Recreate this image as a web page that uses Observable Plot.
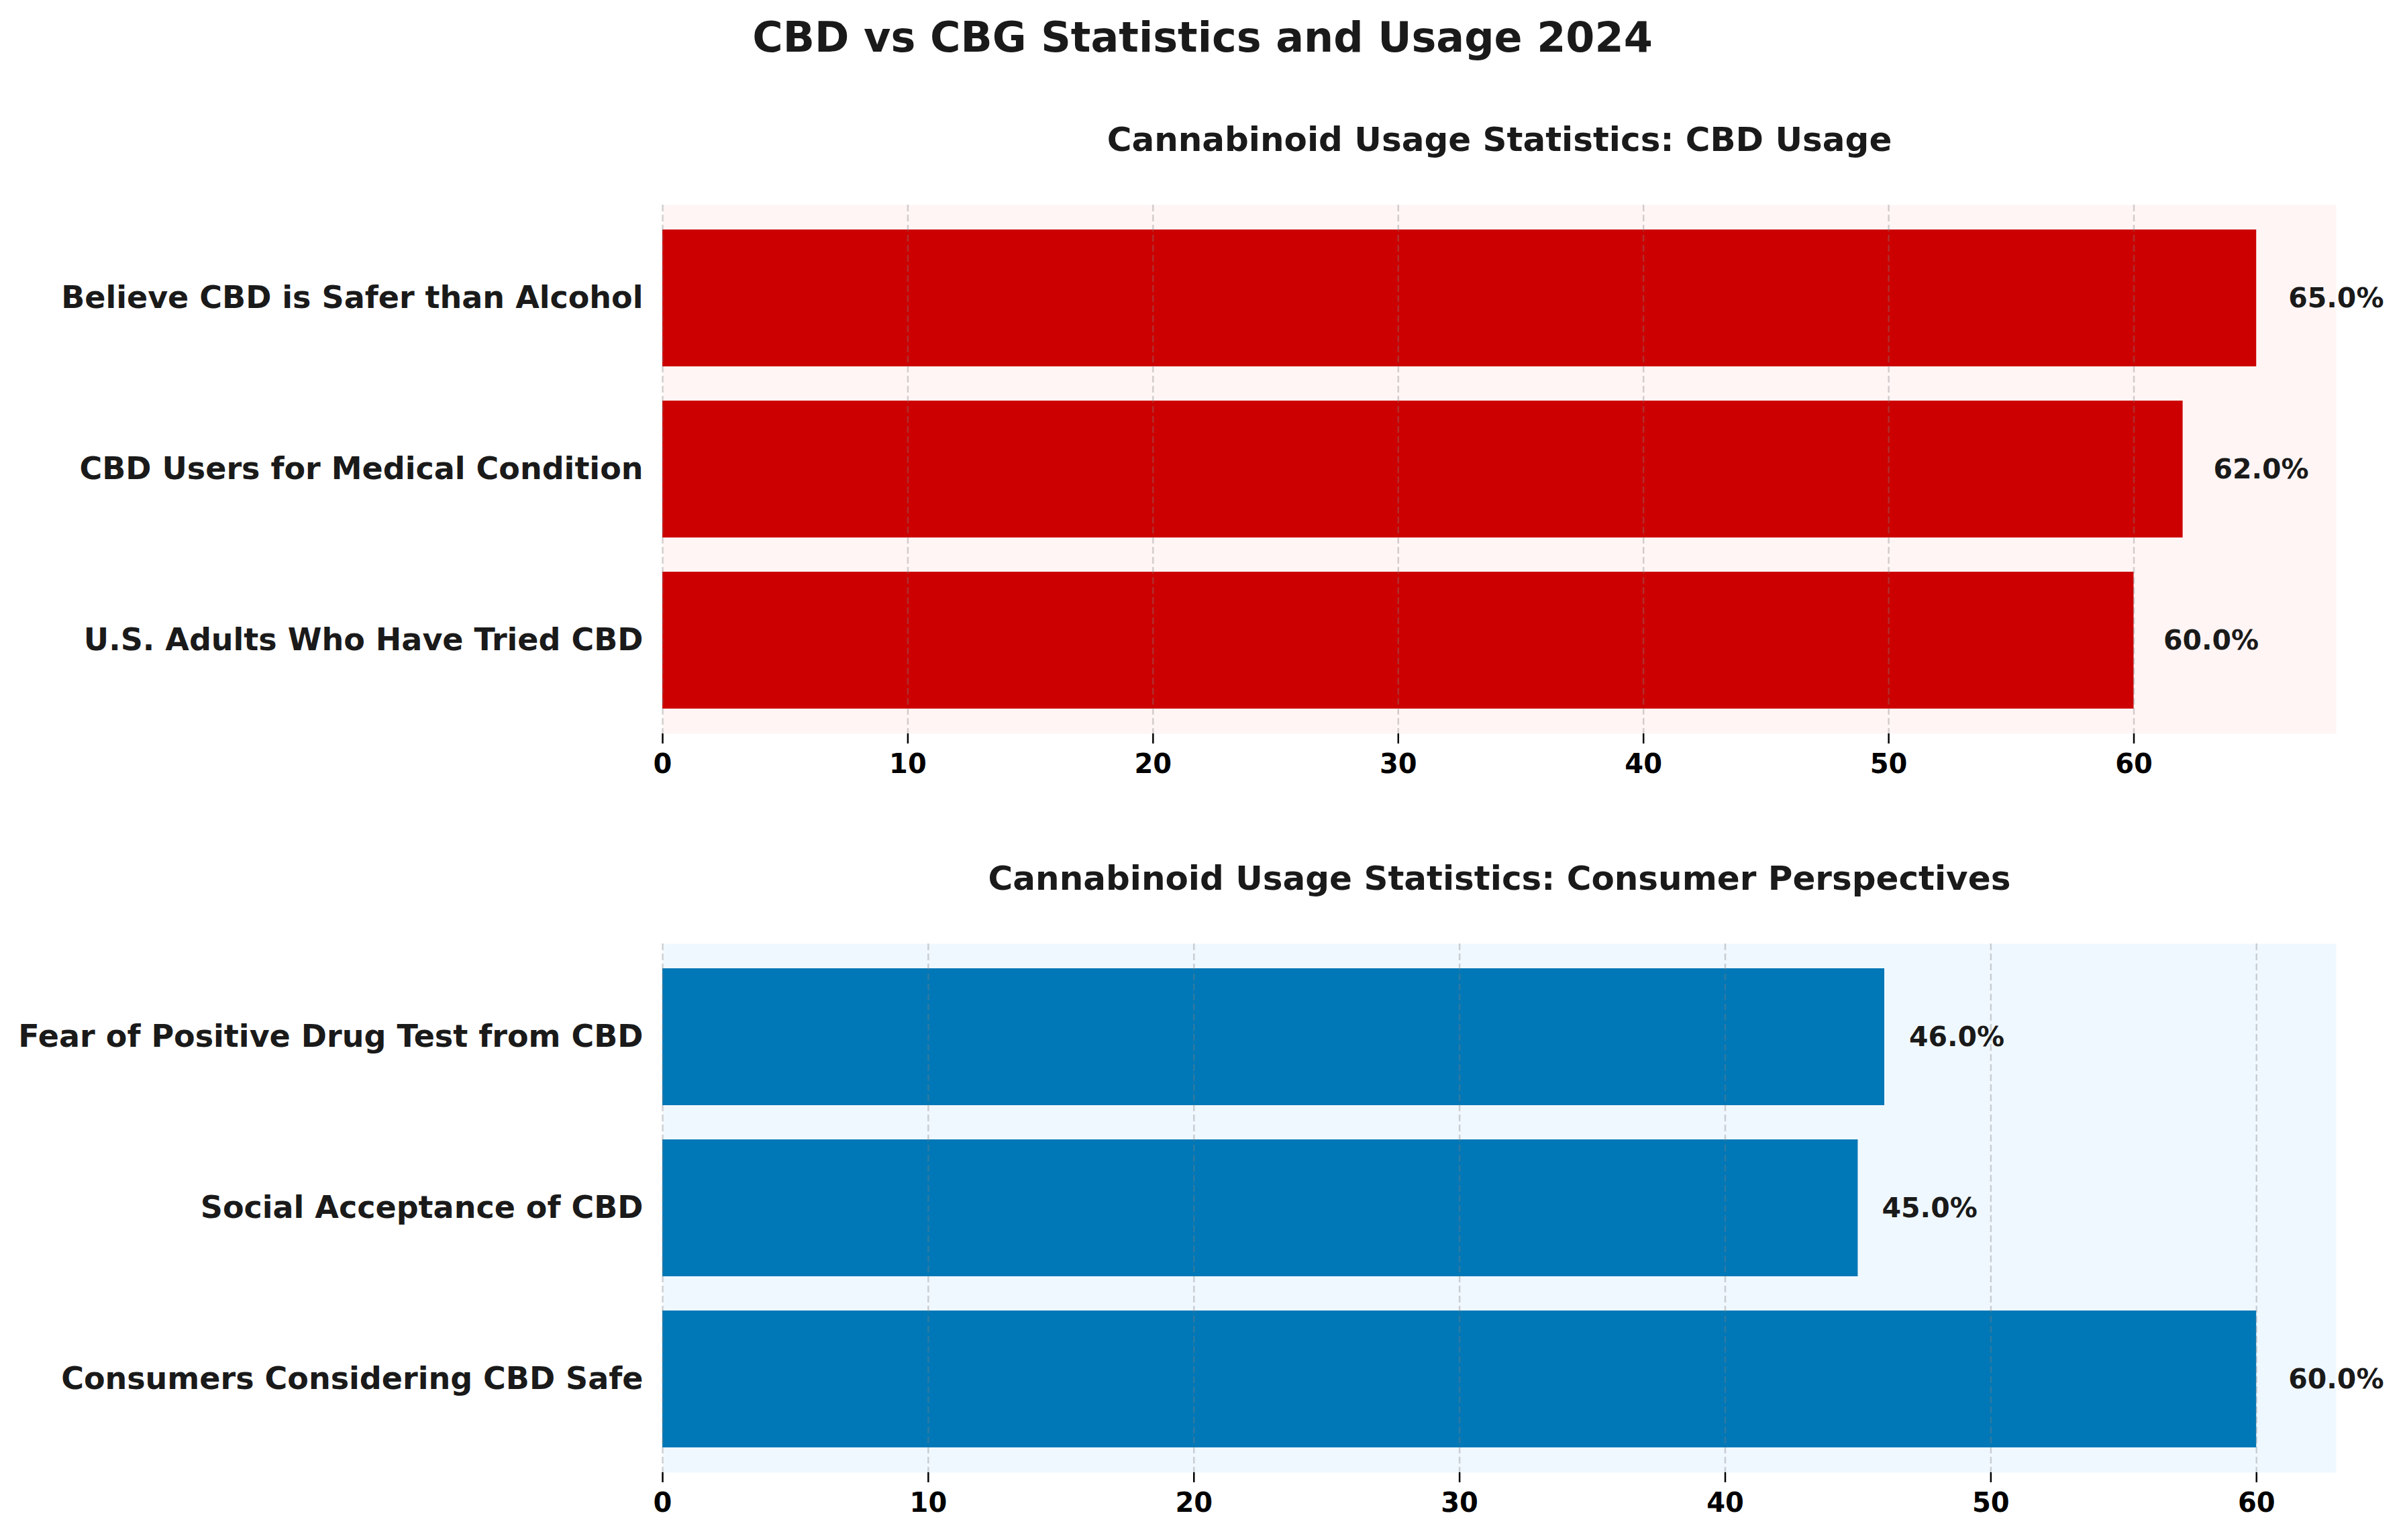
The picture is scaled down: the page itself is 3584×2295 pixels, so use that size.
<!DOCTYPE html>
<html>
<head>
<meta charset="utf-8">
<script src="https://cdn.jsdelivr.net/npm/d3@7"></script>
<script src="https://cdn.jsdelivr.net/npm/@observablehq/plot@0.6"></script>
<style>
  html, body { margin: 0; padding: 0; background: #ffffff; }
  #root { position: relative; width: 3584px; height: 2295px; background: #ffffff; font-family: "DejaVu Sans", sans-serif; overflow: hidden; }
  #title { position: absolute; left: 0; top: 25px; width: 3584px; text-align: center; font-size: 62px; line-height: 62px; font-weight: bold; color: #1a1a1a; }
  .panel { position: absolute; left: 0; }
</style>
</head>
<body>
<div id="root">
  <div id="title">CBD vs CBG Statistics and Usage 2024</div>
  <div id="p1" class="panel" style="top:175px"></div>
  <div id="p2" class="panel" style="top:1276px"></div>
</div>
<script>
// ---- data ----
const cbdLabels = ["Believe CBD is Safer than Alcohol", "CBD Users for Medical Condition", "U.S. Adults Who Have Tried CBD"];
const cbdValues = [65, 62, 60];
const consumerLabels = ["Fear of Positive Drug Test from CBD", "Social Acceptance of CBD", "Consumers Considering CBD Safe"];
const consumerValues = [46, 45, 60];
const xTicks = [0, 10, 20, 30, 40, 50, 60];
const subtitle1 = "Cannabinoid Usage Statistics: CBD Usage";
const subtitle2 = "Cannabinoid Usage Statistics: Consumer Perspectives";

function panel(labels, values, subtitle, barColor, bgColor) {
  const data = labels.map((l, i) => ({label: l, value: values[i]}));
  const maxV = d3.max(values);
  return Plot.plot({
    width: 3584,
    height: 1008,
    marginLeft: 987,
    marginRight: 103,
    marginTop: 130,
    marginBottom: 90,
    style: {fontFamily: "DejaVu Sans", background: "transparent", overflow: "visible"},
    x: {domain: [0, maxV * 1.05]},
    y: {domain: labels, paddingInner: 0.2, paddingOuter: 0.14},
    marks: [
      Plot.frame({fill: bgColor, stroke: null}),
      Plot.barX(data, {x: "value", y: "label", fill: barColor}),
      Plot.ruleX(xTicks, {stroke: "#808080", strokeOpacity: 0.35, strokeWidth: 2.5, strokeDasharray: "10,5"}),
      Plot.text(data, {
        x: d => d.value * 1.02, y: "label",
        text: d => d.value.toFixed(1) + "%",
        textAnchor: "start", fontSize: 41, fontWeight: "bold", fill: "#1a1a1a"
      }),
      Plot.axisY({tickSize: 0, tickPadding: 29, fontSize: 46, fontWeight: "bold", fill: "#1a1a1a", label: null}),
      Plot.axisX({ticks: xTicks, tickFormat: d => String(d), tickSize: 15, tickPadding: 15, strokeWidth: 2.5,
                  fontSize: 40, fontWeight: "bold", fill: "black", label: null}),
      Plot.text([subtitle], {frameAnchor: "top", dy: -116, fontSize: 50, fontWeight: "bold", fill: "#1a1a1a"})
    ]
  });
}

document.getElementById("p1").appendChild(panel(cbdLabels, cbdValues, subtitle1, "#cc0000", "#fff5f5"));
document.getElementById("p2").appendChild(panel(consumerLabels, consumerValues, subtitle2, "#0077b6", "#f0f8ff"));
</script>
</body>
</html>
